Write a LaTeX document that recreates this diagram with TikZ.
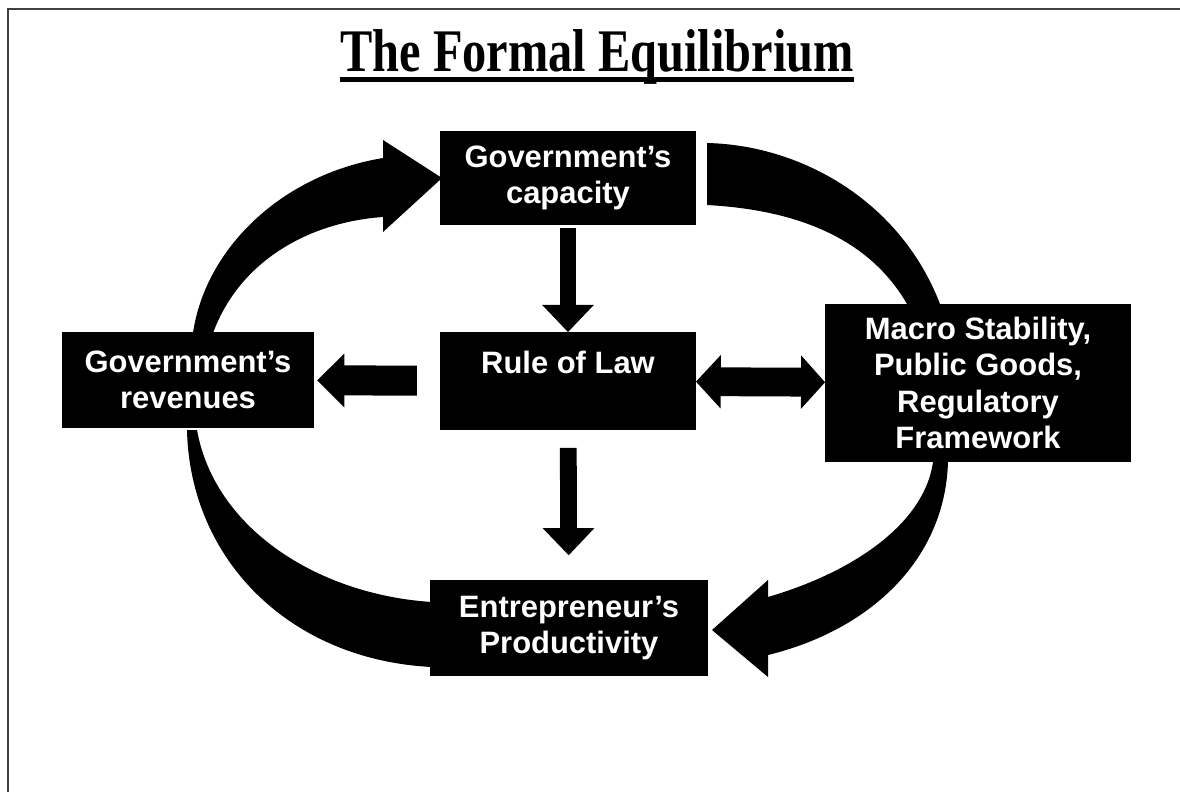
\documentclass[tikz,border=0pt]{standalone}
\usepackage{fontspec}
\usepackage{graphicx}
\setmainfont{Liberation Serif}
\setsansfont{Liberation Sans}
\usetikzlibrary{arrows.meta}
\tikzset{
  box/.style={fill=black,text=white,inner sep=0pt,align=center,
    font=\sffamily\bfseries\fontsize{22}{26}\selectfont},
  band/.style={fill=black},
  vstem/.style={line width=0.42cm,-{Triangle[width=1.25cm,length=0.68cm]}},
  hstem/.style={line width=0.75cm,-{Triangle[width=1.3cm,length=0.68cm]}},
  hboth/.style={line width=0.72cm,{Triangle[width=1.3cm,length=0.62cm]}-{Triangle[width=1.3cm,length=0.6cm]}}
}
\begin{document}
\begin{tikzpicture}[x=0.025cm,y=-0.025cm]
  \useasboundingbox (0,0) rectangle (1180,792);
  \draw[black!75,line width=0.07cm] (1180,9) -- (8,9) -- (8,792);
  % title
  \node[inner sep=0pt,anchor=base,font=\bfseries\fontsize{43}{43}\selectfont] (title) at (597,71)
    {\scalebox{0.8}[1]{The Formal Equilibrium}};
  \draw[line width=0.13cm] ([yshift=-0.22cm]title.base west) -- ([yshift=-0.22cm]title.base east);
  % the big loop
  \fill[band] (193,333) .. controls (205,250) and (280,175) .. (383,158) -- (383,140) -- (442,178)
    -- (383,232) -- (383,217) .. controls (310,222) and (240,260) .. (213,333) -- cycle;
  \fill[band] (707,143) .. controls (800,145) and (900,200) .. (940,304) -- (907,304)
    .. controls (870,240) and (800,210) .. (707,205) -- cycle;
  \fill[band] (948,462) .. controls (945,560) and (870,630) .. (768,655) -- (768,677) -- (712,630)
    -- (768,580) -- (768,597) .. controls (860,570) and (925,520) .. (933,462) -- cycle;
  \fill[band] (187,430) .. controls (190,560) and (290,660) .. (432,667) -- (432,602)
    .. controls (320,595) and (215,530) .. (197,430) -- cycle;
  % boxes
  \node[box,minimum width=6.4cm,minimum height=2.33cm] (cap) at (568,178) {Government’s\\capacity};
  \node[box,minimum width=6.38cm,minimum height=2.43cm] (law) at (568,381) {Rule of Law\\~};
  \node[box,minimum width=6.28cm,minimum height=2.38cm] (rev) at (188,380) {Government’s\\revenues};
  \node[box,minimum width=7.63cm,minimum height=3.95cm] (macro) at (978,383)
    {Macro Stability,\\Public Goods,\\Regulatory\\Framework};
  \node[box,minimum width=6.95cm,minimum height=2.38cm] (entre) at (569,628) {Entrepreneur’s\\Productivity};
  % straight arrows
  \draw[vstem,shorten <=0.08cm] (cap) -- (law);
  \draw[vstem,shorten <=0.45cm,shorten >=0.62cm] (law) -- (entre);
  \draw[hstem,shorten <=0.58cm,shorten >=0.08cm] (law) -- (rev);
  \draw[hboth] (law) -- (macro);
\end{tikzpicture}
\end{document}
